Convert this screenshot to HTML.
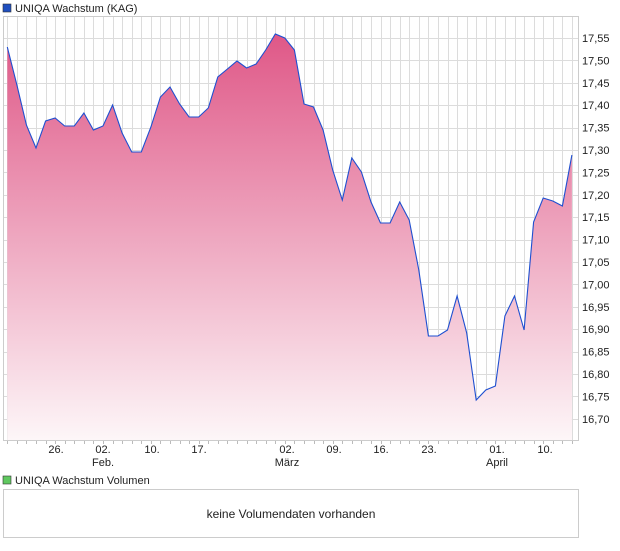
<!DOCTYPE html>
<html><head><meta charset="utf-8"><style>
body{margin:0;background:#fff;font-family:"Liberation Sans",sans-serif;}
</style></head><body>
<svg width="620" height="546" xmlns="http://www.w3.org/2000/svg" font-family="Liberation Sans, sans-serif" font-size="11">
<defs>
<linearGradient id="g" x1="0" y1="30" x2="0" y2="440" gradientUnits="userSpaceOnUse">
<stop offset="0" stop-color="#df5686"/><stop offset="1" stop-color="#fdf6f8"/>
</linearGradient>
</defs>
<rect x="3" y="4" width="8" height="8" fill="#1f4fbf" stroke="#333" stroke-width="0.6"/>
<text x="15" y="12" fill="#222">UNIQA Wachstum (KAG)</text>
<rect x="3.5" y="16.5" width="575" height="424" fill="#fff" stroke="#ccc"/>
<g id="grid" stroke="#dcdcdc" stroke-width="1"></g>
<path id="area" fill="url(#g)"/>
<path id="line" fill="none" stroke="#1e4fd0" stroke-width="1.1"/>
<g id="yl" fill="#222"></g>
<g id="xt" stroke="#bbb"></g>
<g fill="#222" text-anchor="middle">
<text x="56" y="453">26.</text>
<text x="103" y="453">02.</text><text x="103" y="466">Feb.</text>
<text x="152" y="453">10.</text>
<text x="199" y="453">17.</text>
<text x="287" y="453">02.</text><text x="287" y="466">März</text>
<text x="334" y="453">09.</text>
<text x="381" y="453">16.</text>
<text x="429" y="453">23.</text>
<text x="497" y="453">01.</text><text x="497" y="466">April</text>
<text x="545" y="453">10.</text>
</g>
<rect x="3" y="476" width="8" height="8" fill="#5fc85f" stroke="#333" stroke-width="0.6"/>
<text x="15" y="484" fill="#222">UNIQA Wachstum Volumen</text>
<rect x="3.5" y="489.5" width="575" height="48" fill="#fff" stroke="#ccc"/>
<text x="291" y="518" text-anchor="middle" font-size="12" fill="#222">keine Volumendaten vorhanden</text>
</svg>
<script>
var ys=[47,85,125,148,121,118,126,126,113,130,126,105,133,152,152,127,97,87,104,117,117,108,77,69,61,68,64,50,34,38,50,104,107,130,170,200,158,172,202,223,223,202,220,270,336,336,330,296,333,400,390,386,316,296,330,222,198,201,206,155];
var ns="http://www.w3.org/2000/svg";
var g=document.getElementById('grid');
for(var x=7.3;x<578;x+=9.57){var l=document.createElementNS(ns,'line');l.setAttribute('x1',Math.round(x)+.5);l.setAttribute('x2',Math.round(x)+.5);l.setAttribute('y1',17);l.setAttribute('y2',440);g.appendChild(l);}
var yl=document.getElementById('yl');
for(var i=0;i<18;i++){var y=38+i*22.4;var l=document.createElementNS(ns,'line');l.setAttribute('x1',4);l.setAttribute('x2',578);l.setAttribute('y1',Math.round(y)+.5);l.setAttribute('y2',Math.round(y)+.5);g.appendChild(l);
var t=document.createElementNS(ns,'text');t.setAttribute('x',582);t.setAttribute('y',y+4);t.textContent=(17.55-i*0.05).toFixed(2).replace('.',',');yl.appendChild(t);}
var xt=document.getElementById('xt');
for(var x=7.3;x<578;x+=9.57){var l=document.createElementNS(ns,'line');l.setAttribute('x1',Math.round(x)+.5);l.setAttribute('x2',Math.round(x)+.5);l.setAttribute('y1',441);l.setAttribute('y2',444);xt.appendChild(l);}
var d='';for(var i=0;i<ys.length;i++){d+=(i?'L':'M')+(7.3+9.57*i).toFixed(1)+','+ys[i];}
document.getElementById('line').setAttribute('d',d);
document.getElementById('area').setAttribute('d',d+'L'+(7.3+9.57*59).toFixed(1)+',440L7.3,440Z');
</script>
</body></html>
